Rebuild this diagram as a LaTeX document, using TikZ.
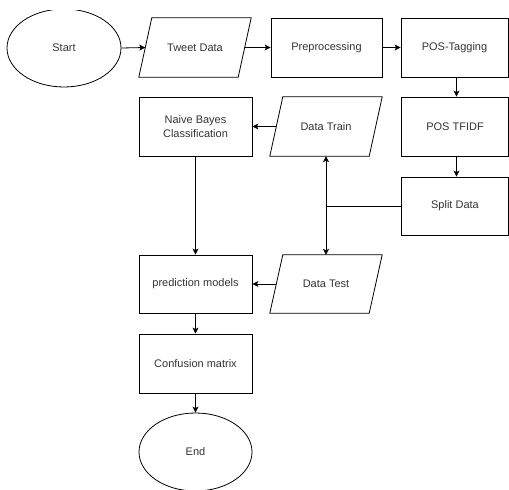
\documentclass[tikz,border=0pt]{standalone}
\usepackage{fontspec}
\setmainfont{Liberation Sans}
\usetikzlibrary{shapes.geometric,arrows.meta,calc}
\definecolor{txt}{HTML}{333333}
\begin{document}
\begin{tikzpicture}[x=1pt,y=-1pt,
  base/.style={inner sep=0pt, font=\fontsize{11}{14}\selectfont, text=txt, align=center},
  box/.style={base, draw, line width=0.8pt, rectangle, minimum width=#1, minimum height=59},
  box/.default=112,
  para/.style={base, rectangle, minimum width=112, minimum height=59},
  oval/.style={base, draw, line width=0.8pt, ellipse, minimum width=#1, minimum height=78},
  arr/.style={line width=0.8pt, -{Stealth[length=6pt,width=6pt,inset=1.5pt]}},
  ln/.style={line width=0.8pt}
]
\useasboundingbox (0,0) rectangle (509,490);
\begin{scope}
\clip (0,10) rectangle (509,489.5);
\node[oval=114] (start) at (64,48) {Start};
\node[oval=113] (end) at (195.5,452) {End};
\end{scope}
\node[para] (tweet) at (195,47.5) {Tweet Data};
\node[box=111] (pre) at (326.5,47.5) {Preprocessing};
\node[box=107] (pos) at (454.5,47.5) {POS-Tagging};
\node[box=107] (tfidf) at (455,126.5) {POS TFIDF};
\node[box=107, minimum height=58] (split) at (455,206) {Split Data};
\node[box=113] (nb) at (195.5,126.5) {Naive Bayes\\Classification};
\node[para] (train) at (326,126.5) {Data Train};
\node[para, minimum height=58] (test) at (326,284) {Data Test};
\node[box=113, minimum height=58] (pm) at (195.5,284) {prediction models};
\node[box=113] (cm) at (195.5,363.5) {Confusion matrix};
% parallelogram outlines
\foreach \n in {tweet,train,test}{
  \draw[ln] ($(\n.north west)+(13,0)$) -- (\n.north east) -- ($(\n.south east)-(13,0)$) -- (\n.south west) -- cycle;
}
\coordinate (tweetin) at ($(tweet.west)+(6.5,0)$);
\coordinate (trainout) at ($(train.west)+(6.5,0)$);
\coordinate (testout) at ($(test.west)+(6.5,0)$);
\draw[arr] (start.east) -- (tweetin);
\draw[arr] ($(tweet.east)-(6.5,0)$) -- (pre.west);
\draw[arr] (pre.east) -- (pos.west);
\draw[arr] ($(pos.south)+(2,0)$) -- ($(tfidf.north)+(1.5,0)$);
\draw[arr] ($(tfidf.south)+(1.5,0)$) -- ($(split.north)+(1.5,0)$);
\draw[arr] (trainout) -- (nb.east);
\draw[ln] (split.west) -- (split.west -| train.south);
\draw[line width=0.8pt, {Stealth[length=6pt,width=6pt,inset=1.5pt]}-{Stealth[length=6pt,width=6pt,inset=1.5pt]}] (train.south) -- (test.north);
\draw[arr] (nb.south) -- (pm.north);
\draw[arr] (testout) -- (pm.east);
\draw[arr] (pm.south) -- (cm.north);
\draw[arr] (cm.south) -- (end.north);
\end{tikzpicture}
\end{document}
